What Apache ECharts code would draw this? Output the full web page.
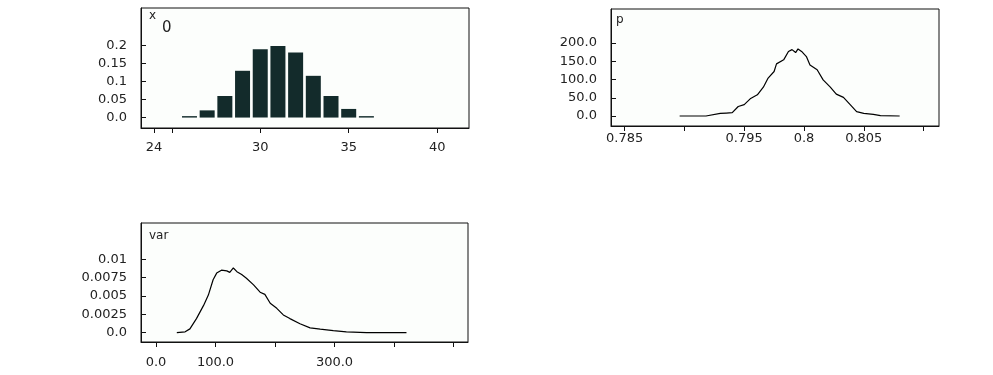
<!DOCTYPE html>
<html>
<head>
<meta charset="utf-8">
<script src="https://cdn.jsdelivr.net/npm/echarts@6/dist/echarts.min.js"></script>
<style>
  html, body { margin: 0; padding: 0; background: #fff; }
  #chart { width: 993px; height: 375px; }
</style>
</head>
<body>
<div id="chart"></div>
<script>
// x0 histogram
let x0Values = [26, 27, 28, 29, 30, 31, 32, 33, 34, 35, 36]
let x0Probs = [0.004, 0.02, 0.06, 0.13, 0.19, 0.199, 0.181, 0.116, 0.06, 0.024, 0.004]
let x0XTicks = [24, 25, 30, 35, 40]
let x0XLabels = [24, 30, 35, 40]
let x0YTicks = [0, 0.05, 0.1, 0.15, 0.2]
let x0YLabels = ['0.0', '0.05', '0.1', '0.15', '0.2']

// p density
let pX = [0.7896, 0.7918, 0.7919, 0.7930, 0.7935, 0.7940, 0.7945, 0.7950, 0.7955, 0.7961,
  0.7966, 0.7970, 0.7975, 0.7977, 0.7983, 0.7987, 0.7990, 0.7993, 0.7995, 0.7998,
  0.8002, 0.8005, 0.8011, 0.8016, 0.8022, 0.8027, 0.8033, 0.8039, 0.8044, 0.8050,
  0.8058, 0.8064, 0.8080]
let pY = [0, 0, 3, 7, 8, 9, 26, 31, 47, 58,
  79, 104, 122, 143, 154, 177, 182, 174, 184, 177,
  163, 140, 127, 99, 79, 60, 51, 30, 12, 7,
  4.6, 1, 0]
let pXTicks = [0.785, 0.79, 0.795, 0.8, 0.805, 0.81]
let pXLabels = ['0.785', '0.795', '0.8', '0.805']
let pYTicks = [0, 50, 100, 150, 200]
let pYLabels = ['0.0', '50.0', '100.0', '150.0', '200.0']

// var density
let varX = [35, 49, 57, 68, 80, 88, 96, 102, 110, 119, 124, 130, 136, 144, 152, 164, 175, 183,
  192, 203, 214, 225, 242, 259, 276, 298, 320, 354, 421]
let varY = [0, 0.0001, 0.0005, 0.0019, 0.0037, 0.0051, 0.0072, 0.0081, 0.0085, 0.0084, 0.0082,
  0.0088, 0.0083, 0.0079, 0.0074, 0.0065, 0.0055, 0.0052, 0.004, 0.0033, 0.0024, 0.0019,
  0.0012, 0.00064, 0.00046, 0.00027, 0.0001, 0, 0]
let varXTicks = [0, 100, 200, 300, 400, 500]
let varXLabels = [0, 100, 300]
let varYTicks = [0, 0.0025, 0.005, 0.0075, 0.01]
let varYLabels = ['0.0', '0.0025', '0.005', '0.0075', '0.01']

let font = 'DejaVu Sans'
let txt = '#222'

let pairs = (xs, ys) => xs.map((x, i) => [x, ys[i]])

let makeX = (grid, min, max, ticks, labels, fmt, margin) => ({
  type: 'value', gridIndex: grid, min: min, max: max,
  splitLine: { show: false },
  axisLine: { show: true, onZero: false, lineStyle: { color: '#111', width: 1 } },
  axisTick: { show: true, inside: false, length: 5, customValues: ticks, lineStyle: { color: '#111' } },
  axisLabel: {
    customValues: labels, margin: margin, color: txt, fontFamily: font, fontSize: 13,
    formatter: fmt
  }
})

let makeY = (grid, min, max, ticks, labels) => ({
  type: 'value', gridIndex: grid, min: min, max: max,
  splitLine: { show: false },
  axisLine: { show: true, onZero: false, lineStyle: { color: '#111', width: 1 } },
  axisTick: { show: true, inside: true, length: 5, customValues: ticks, lineStyle: { color: '#111' } },
  axisLabel: {
    customValues: ticks, margin: 14, color: txt, fontFamily: font, fontSize: 13,
    formatter: v => labels[ticks.indexOf(v)]
  }
})

let gridBox = { show: true, borderColor: '#111', borderWidth: 1, backgroundColor: '#fcfefc' }
let nameStyle = size => ({ fontFamily: font, fontSize: size, fontWeight: 'normal', color: txt })

let chart = echarts.init(document.getElementById('chart'), null, { renderer: 'canvas' })
chart.setOption({
  animation: false,
  backgroundColor: '#fff',
  title: [
    { left: 144, top: 5, text: 'x', textStyle: nameStyle(12) },
    { left: 157, top: 16, text: '0', textStyle: nameStyle(15) },
    { left: 611, top: 9, text: 'p', textStyle: nameStyle(12) },
    { left: 144, top: 225, text: 'var', textStyle: nameStyle(12) }
  ],
  grid: [
    Object.assign({ left: 141, top: 8, width: 328, height: 120 }, gridBox),
    Object.assign({ left: 611, top: 9, width: 328, height: 117 }, gridBox),
    Object.assign({ left: 141, top: 223, width: 327, height: 119 }, gridBox)
  ],
  xAxis: [
    makeX(0, 23.26, 41.8, x0XTicks, x0XLabels, v => String(v), 13),
    makeX(1, 0.78386, 0.81129, pXTicks, pXLabels.map(Number), v => pXLabels[pXLabels.map(Number).indexOf(v)], 6),
    makeX(2, -25.2, 524.4, varXTicks, varXLabels, v => v.toFixed(1), 14)
  ],
  yAxis: [
    makeY(0, -0.029, 0.3045, x0YTicks, x0YLabels),
    makeY(1, -27.5, 293.5, pYTicks, pYLabels),
    makeY(2, -0.00129, 0.01493, varYTicks, varYLabels)
  ],
  series: [
    {
      type: 'bar', xAxisIndex: 0, yAxisIndex: 0, barWidth: 15,
      itemStyle: { color: '#132b2b' },
      data: pairs(x0Values, x0Probs)
    },
    {
      type: 'line', xAxisIndex: 1, yAxisIndex: 1, showSymbol: false,
      lineStyle: { color: '#000', width: 1.2 },
      data: pairs(pX, pY)
    },
    {
      type: 'line', xAxisIndex: 2, yAxisIndex: 2, showSymbol: false,
      lineStyle: { color: '#000', width: 1.2 },
      data: pairs(varX, varY)
    }
  ]
})
</script>
</body>
</html>
